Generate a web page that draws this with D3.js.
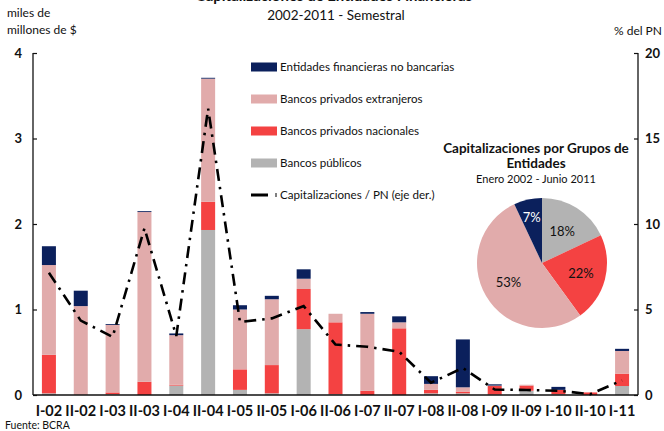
<!DOCTYPE html>
<meta charset="utf-8">
<html>
<head>
<script src="https://d3js.org/d3.v7.min.js"></script>
<style>
  body { margin: 0; background: #fff; }
  text { font-family: Lato, "Open Sans", sans-serif; fill: #111; }
</style>
</head>
<body>
<div id="chart"></div>
<script>
// --- data ---
var periods = ["I-02","II-02","I-03","II-03","I-04","II-04","I-05","II-05","I-06","II-06",
               "I-07","II-07","I-08","II-08","I-09","II-09","I-10","II-10","I-11"];
var publicos    = [0.02, 0.00, 0.01, 0.00, 0.11, 1.93, 0.06, 0.02, 0.77, 0.01, 0.00, 0.00, 0.02, 0.02, 0.005, 0.05, 0.01, 0.00, 0.105];
var nacionales  = [0.45, 0.00, 0.02, 0.155,0.01, 0.33, 0.24, 0.33, 0.47, 0.84, 0.05, 0.78, 0.04, 0.02, 0.10, 0.06, 0.05, 0.03, 0.145];
var extranjeros = [1.05, 1.04, 0.79, 1.985,0.58, 1.44, 0.70, 0.77, 0.12, 0.10, 0.90, 0.07, 0.07, 0.05, 0.005, 0.01, 0.00, 0.00, 0.265];
var noBancarias = [0.22, 0.18, 0.01, 0.01, 0.02, 0.01, 0.05, 0.04, 0.11, 0.00, 0.02, 0.07, 0.09, 0.56, 0.015, 0.00, 0.035, 0.00, 0.025];
var capPN       = [7.15, 4.35, 3.4, 9.75, 3.45, 16.75, 4.27, 4.48, 5.2, 2.95, 2.82, 2.53, 0.72, 1.58, 0.32, 0.29, 0.25, 0.05, 0.85];

var pieLabels = ["Bancos públicos","Bancos privados nacionales","Bancos privados extranjeros","Entidades financieras no bancarias"];
var pieValues = [18, 22, 53, 7];

var leftTicks = [0, 1, 2, 3, 4];
var rightTicks = [0, 5, 10, 15, 20];

var series = [
  {key: "publicos", name: "Bancos públicos", color: "#b3b3b3", values: publicos},
  {key: "nacionales", name: "Bancos privados nacionales", color: "#f44242", values: nacionales},
  {key: "extranjeros", name: "Bancos privados extranjeros", color: "#e1abab", values: extranjeros},
  {key: "noBancarias", name: "Entidades financieras no bancarias", color: "#0b205c", values: noBancarias}
];

var width = 664, height = 431;
var plotLeft = 33, plotRight = 638, plotTop = 53, plotBottom = 395;

var svg = d3.select("#chart").append("svg")
    .attr("width", width)
    .attr("height", height);

// titles (first line is cut off at the top of the picture)
svg.append("text").attr("x", 334).attr("y", 1).attr("text-anchor", "middle")
   .style("font-weight", "bold").style("font-size", "15px")
   .text("Capitalizaciones de Entidades Financieras");
svg.append("text").attr("x", 336).attr("y", 20).attr("text-anchor", "middle")
   .style("font-size", "13.5px").text("2002-2011 - Semestral");
svg.append("text").attr("x", 7).attr("y", 17).style("font-size", "12px").text("miles de");
svg.append("text").attr("x", 7).attr("y", 34).style("font-size", "12px").text("millones de $");
svg.append("text").attr("x", 662).attr("y", 35).attr("text-anchor", "end").style("font-size", "12px").text("% del PN");

// scales
var x = d3.scaleBand().domain(periods).range([plotLeft, plotRight]).paddingInner(0.56).paddingOuter(0.28);
var y = d3.scaleLinear().domain([0, 4]).range([plotBottom, plotTop]);
var y2 = d3.scaleLinear().domain([0, 20]).range([plotBottom, plotTop]);

// stacked bars
var rows = periods.map(function(p, i) {
  var r = {period: p};
  series.forEach(function(s) { r[s.key] = s.values[i]; });
  return r;
});
var stack = d3.stack().keys(series.map(function(s) { return s.key; }));
var layers = stack(rows);

svg.append("g").selectAll("g")
  .data(layers)
  .enter().append("g")
    .attr("fill", function(d, i) { return series[i].color; })
  .selectAll("rect")
  .data(function(d) { return d; })
  .enter().append("rect")
    .attr("x", function(d) { return x(d.data.period); })
    .attr("width", x.bandwidth())
    .attr("y", function(d) { return y(d[1]); })
    .attr("height", function(d) { return y(d[0]) - y(d[1]); });

// axes
var yAxis = d3.axisLeft(y).tickValues(leftTicks).tickSize(-4).tickPadding(11).tickFormat(d3.format("d"));
var gy = svg.append("g").attr("transform", "translate(" + plotLeft + ",0)").call(yAxis);
var y2Axis = d3.axisRight(y2).tickValues(rightTicks).tickSize(-4).tickPadding(7).tickFormat(d3.format("d"));
var gy2 = svg.append("g").attr("transform", "translate(" + plotRight + ",0)").call(y2Axis);
[gy, gy2].forEach(function(g) {
  g.select(".domain").attr("stroke", "#111").attr("stroke-width", 1.3)
   .attr("d", "M0," + plotTop + "V" + plotBottom);
  g.selectAll("line").attr("stroke", "#111").attr("stroke-width", 1.2);
  g.selectAll("text").style("font-size", "13px").style("font-weight", "bold")
   .attr("fill", "#111");
});

var xAxis = d3.axisBottom(x).tickSize(0).tickPadding(11);
var gx = svg.append("g").attr("transform", "translate(0," + plotBottom + ")").call(xAxis);
gx.select(".domain").attr("stroke", "#111").attr("stroke-width", 1.5).attr("d", "M" + plotLeft + ",0H" + plotRight);
gx.selectAll("text").style("font-size", "14.5px").style("font-weight", "bold")
  .attr("fill", "#111");

// line (right axis)
var line = d3.line()
  .x(function(d, i) { return x(periods[i]) + x.bandwidth() / 2; })
  .y(function(d) { return y2(d); });
svg.append("path")
  .datum(capPN)
  .attr("fill", "none")
  .attr("stroke", "#000")
  .attr("stroke-width", 2.6)
  .attr("stroke-dasharray", "12,6,2.5,6")
  .attr("d", line);

// legend
var legendItems = [series[3], series[2], series[1], series[0]];
var lg = svg.append("g");
legendItems.forEach(function(s, i) {
  var ly = 67 + i * 32;
  lg.append("rect").attr("x", 251).attr("y", ly - 4.5).attr("width", 26).attr("height", 9).attr("fill", s.color);
  lg.append("text").attr("x", 280).attr("y", ly + 4).style("font-size", "11.6px").text(s.name);
});
lg.append("line").attr("x1", 251).attr("x2", 268).attr("y1", 195).attr("y2", 195)
  .attr("stroke", "#000").attr("stroke-width", 3);
lg.append("line").attr("x1", 276).attr("x2", 276).attr("y1", 193).attr("y2", 197)
  .attr("stroke", "#000").attr("stroke-width", 1);
lg.append("text").attr("x", 280).attr("y", 199).style("font-size", "11.6px").text("Capitalizaciones / PN (eje der.)");

// pie
var pieColors = [series[0].color, series[1].color, series[2].color, series[3].color];
var cx = 542, cy = 263, r = 65;
var pg = svg.append("g").attr("transform", "translate(" + cx + "," + cy + ")");
var pie = d3.pie().sort(null).value(function(d) { return d; });
var arc = d3.arc().innerRadius(0).outerRadius(r);
var arcs = pie(pieValues);
pg.selectAll("path").data(arcs).enter().append("path")
  .attr("d", arc).attr("fill", function(d, i) { return pieColors[i]; });
var labelR = [0.58, 0.62, 0.6, 0.72];
pg.selectAll("text.pl").data(arcs).enter().append("text")
  .attr("class", "pl")
  .attr("transform", function(d, i) {
    var a = d3.arc().innerRadius(r * labelR[i]).outerRadius(r * labelR[i]);
    return "translate(" + a.centroid(d) + ")";
  })
  .attr("text-anchor", "middle").attr("dy", "0.35em")
  .style("font-size", "13px")
  .style("fill", function(d, i) { return i === 3 ? "#fff" : "#111"; })
  .text(function(d) { return d.data + "%"; });

svg.append("text").attr("x", 536).attr("y", 153).attr("text-anchor", "middle")
   .style("font-weight", "bold").style("font-size", "13.5px").text("Capitalizaciones por Grupos de");
svg.append("text").attr("x", 536).attr("y", 168).attr("text-anchor", "middle")
   .style("font-weight", "bold").style("font-size", "13.5px").text("Entidades");
svg.append("text").attr("x", 536).attr("y", 183).attr("text-anchor", "middle")
   .style("font-size", "11px").text("Enero 2002 - Junio 2011");

svg.append("text").attr("x", 5).attr("y", 429).style("font-size", "10.5px").text("Fuente: BCRA");
</script>
</body>
</html>
